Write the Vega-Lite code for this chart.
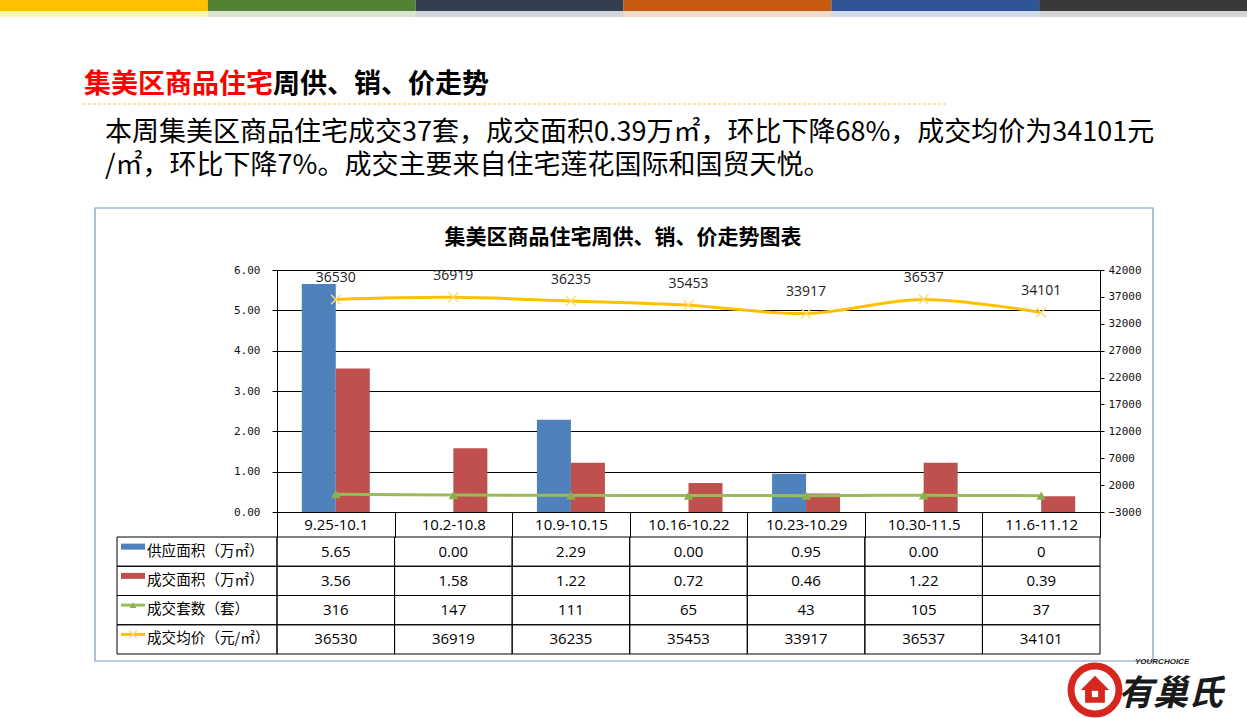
{
  "$schema": "https://vega.github.io/schema/vega-lite/v6.json",
  "width": 823,
  "height": 242,
  "autosize": {"type": "none"},
  "padding": {"left": 277, "top": 270, "right": 147, "bottom": 206},
  "background": "#ffffff",
  "config": {"view": {"stroke": null}, "font": "Noto Sans CJK SC"},
  "datasets": {
    "weekly": [
      {"period": "9.25-10.1", "metric": "供应面积（万㎡）", "value": 5.65, "label": "5.65"},
      {"period": "9.25-10.1", "metric": "成交面积（万㎡）", "value": 3.56, "label": "3.56"},
      {"period": "9.25-10.1", "metric": "成交套数（套）", "value": 316, "label": "316"},
      {"period": "9.25-10.1", "metric": "成交均价（元/㎡）", "value": 36530, "label": "36530"},
      {"period": "10.2-10.8", "metric": "供应面积（万㎡）", "value": 0, "label": "0.00"},
      {"period": "10.2-10.8", "metric": "成交面积（万㎡）", "value": 1.58, "label": "1.58"},
      {"period": "10.2-10.8", "metric": "成交套数（套）", "value": 147, "label": "147"},
      {"period": "10.2-10.8", "metric": "成交均价（元/㎡）", "value": 36919, "label": "36919"},
      {"period": "10.9-10.15", "metric": "供应面积（万㎡）", "value": 2.29, "label": "2.29"},
      {"period": "10.9-10.15", "metric": "成交面积（万㎡）", "value": 1.22, "label": "1.22"},
      {"period": "10.9-10.15", "metric": "成交套数（套）", "value": 111, "label": "111"},
      {"period": "10.9-10.15", "metric": "成交均价（元/㎡）", "value": 36235, "label": "36235"},
      {"period": "10.16-10.22", "metric": "供应面积（万㎡）", "value": 0, "label": "0.00"},
      {"period": "10.16-10.22", "metric": "成交面积（万㎡）", "value": 0.72, "label": "0.72"},
      {"period": "10.16-10.22", "metric": "成交套数（套）", "value": 65, "label": "65"},
      {"period": "10.16-10.22", "metric": "成交均价（元/㎡）", "value": 35453, "label": "35453"},
      {"period": "10.23-10.29", "metric": "供应面积（万㎡）", "value": 0.95, "label": "0.95"},
      {"period": "10.23-10.29", "metric": "成交面积（万㎡）", "value": 0.46, "label": "0.46"},
      {"period": "10.23-10.29", "metric": "成交套数（套）", "value": 43, "label": "43"},
      {"period": "10.23-10.29", "metric": "成交均价（元/㎡）", "value": 33917, "label": "33917"},
      {"period": "10.30-11.5", "metric": "供应面积（万㎡）", "value": 0, "label": "0.00"},
      {"period": "10.30-11.5", "metric": "成交面积（万㎡）", "value": 1.22, "label": "1.22"},
      {"period": "10.30-11.5", "metric": "成交套数（套）", "value": 105, "label": "105"},
      {"period": "10.30-11.5", "metric": "成交均价（元/㎡）", "value": 36537, "label": "36537"},
      {"period": "11.6-11.12", "metric": "供应面积（万㎡）", "value": 0, "label": "0"},
      {"period": "11.6-11.12", "metric": "成交面积（万㎡）", "value": 0.39, "label": "0.39"},
      {"period": "11.6-11.12", "metric": "成交套数（套）", "value": 37, "label": "37"},
      {"period": "11.6-11.12", "metric": "成交均价（元/㎡）", "value": 34101, "label": "34101"}
    ],
    "stripes": [{"seg": "a"}, {"seg": "b"}, {"seg": "c"}, {"seg": "d"}, {"seg": "e"}, {"seg": "f"}],
    "note": [{
      "red": "集美区商品住宅",
      "black": "周供、销、价走势",
      "paragraph": ["本周集美区商品住宅成交37套，成交面积0.39万㎡，环比下降68%，成交均价为34101元", "/㎡，环比下降7%。成交主要来自住宅莲花国际和国贸天悦。"],
      "chartTitle": "集美区商品住宅周供、销、价走势图表",
      "brand": "有巢氏",
      "brandEn": "YOURCHOICE"
    }]
  },
  "layer": [
    {
      "data": {"name": "stripes"},
      "encoding": {
        "x": {"field": "seg", "type": "nominal", "sort": null, "axis": null, "scale": {"range": [-277, 970], "paddingInner": 0, "paddingOuter": 0}},
        "color": {"field": "seg", "type": "nominal", "sort": null, "legend": null, "scale": {"range": ["#FFC000", "#548235", "#333F50", "#C55A11", "#2F5597", "#3A3838"]}}
      },
      "layer": [
        {"mark": {"type": "rect"}, "encoding": {"y": {"value": -270}, "y2": {"value": -259}}},
        {"mark": {"type": "rect", "opacity": 0.22}, "encoding": {"y": {"value": -259}, "y2": {"value": -253}}}
      ]
    },
    {
      "data": {"name": "note"},
      "layer": [
        {"mark": {"type": "text", "align": "left", "baseline": "middle", "fontSize": 27, "fontWeight": "bold", "font": "Noto Sans CJK SC", "color": "#FF0000"},
         "encoding": {"x": {"value": -193}, "y": {"value": -185}, "text": {"field": "red"}}},
        {"mark": {"type": "text", "align": "left", "baseline": "middle", "fontSize": 27, "fontWeight": "bold", "font": "Noto Sans CJK SC", "color": "#000000"},
         "encoding": {"x": {"value": -4}, "y": {"value": -185}, "text": {"field": "black"}}},
        {"mark": {"type": "rule", "color": "#F2C94C", "strokeWidth": 1, "strokeDash": [3, 2]},
         "encoding": {"x": {"value": -194}, "x2": {"value": 671}, "y": {"value": -166}}},
        {"mark": {"type": "text", "align": "left", "baseline": "middle", "fontSize": 27, "lineHeight": 32.5, "font": "Noto Sans CJK SC", "color": "#000000"},
         "encoding": {"x": {"value": -172}, "y": {"value": -137}, "text": {"field": "paragraph"}}},
        {"mark": {"type": "rect", "fillOpacity": 0, "stroke": "#7C98C0", "strokeWidth": 1.2},
         "encoding": {"x": {"value": -182}, "x2": {"value": 876}, "y": {"value": -62}, "y2": {"value": 391}}},
        {"mark": {"type": "text", "align": "center", "baseline": "middle", "fontSize": 21, "fontWeight": "bold", "font": "Noto Sans CJK SC", "color": "#000000"},
         "encoding": {"x": {"value": 346}, "y": {"value": -32}, "text": {"field": "chartTitle"}}},
        {"mark": {"type": "point", "shape": "circle", "size": 2300, "filled": false, "strokeWidth": 7, "color": "#D7261E", "opacity": 1},
         "encoding": {"x": {"value": 818}, "y": {"value": 420}}},
        {"mark": {"type": "point", "shape": "M0,-1L1,0L0.7,0L0.7,0.9L-0.7,0.9L-0.7,0L-1,0Z", "size": 800, "filled": true, "color": "#D7261E", "opacity": 1},
         "encoding": {"x": {"value": 818}, "y": {"value": 420}}},
        {"mark": {"type": "point", "shape": "square", "size": 40, "filled": true, "color": "#ffffff", "opacity": 1},
         "encoding": {"x": {"value": 818}, "y": {"value": 424}}},
        {"mark": {"type": "text", "align": "left", "baseline": "middle", "fontSize": 35, "fontWeight": "bold", "fontStyle": "italic", "font": "Noto Sans CJK SC", "color": "#1a1a1a"},
         "encoding": {"x": {"value": 841}, "y": {"value": 424}, "text": {"field": "brand"}}},
        {"mark": {"type": "text", "align": "left", "baseline": "middle", "fontSize": 8, "fontWeight": "bold", "fontStyle": "italic", "font": "Liberation Sans", "color": "#1a1a1a"},
         "encoding": {"x": {"value": 858}, "y": {"value": 392}, "text": {"field": "brandEn"}}}
      ]
    },
    {
      "data": {"name": "weekly"},
      "encoding": {
        "x": {"field": "period", "type": "nominal", "sort": null, "scale": {"paddingInner": 0, "paddingOuter": 0},
              "axis": {"orient": "bottom", "title": null, "domainColor": "#000000", "tickBand": "extent", "tickSize": 25, "tickColor": "#000000", "labelAngle": 0, "labelBaseline": "middle", "labelPadding": -12.5, "labelFont": "Open Sans", "labelFontSize": 15, "labelColor": "#000000", "labelOverlap": false}}
      },
      "layer": [
        {
          "transform": [{"filter": {"field": "metric", "oneOf": ["供应面积（万㎡）", "成交面积（万㎡）"]}}],
          "mark": {"type": "bar"},
          "encoding": {
            "xOffset": {"field": "metric", "type": "nominal", "sort": null, "scale": {"paddingInner": 0, "paddingOuter": 0.729}},
            "y": {"field": "value", "type": "quantitative", "scale": {"domain": [0, 6], "nice": false},
                  "axis": {"orient": "left", "title": null, "values": [0, 1, 2, 3, 4, 5, 6], "format": ".2f", "grid": true, "gridColor": "#000000", "gridOpacity": 1, "domainColor": "#000000", "tickColor": "#000000", "tickSize": 5, "labelPadding": 12, "labelFont": "DejaVu Sans Mono", "labelFontSize": 11, "labelColor": "#111111"}},
            "color": {"field": "metric", "type": "nominal", "legend": null,
                      "scale": {"domain": ["供应面积（万㎡）", "成交面积（万㎡）", "成交套数（套）", "成交均价（元/㎡）"], "range": ["#4F81BD", "#C0504D", "#9BBB59", "#FFC000"]}}
          }
        },
        {
          "transform": [{"filter": {"field": "metric", "oneOf": ["成交套数（套）", "成交均价（元/㎡）"]}}],
          "encoding": {
            "y": {"field": "value", "type": "quantitative", "scale": {"domain": [-3000, 42000], "nice": false, "zero": false},
                  "axis": {"orient": "right", "title": null, "values": [-3000, 2000, 7000, 12000, 17000, 22000, 27000, 32000, 37000, 42000], "format": "d", "grid": false, "domainColor": "#000000", "tickColor": "#000000", "tickSize": 4, "labelPadding": 4, "labelFont": "DejaVu Sans Mono", "labelFontSize": 11, "labelColor": "#111111"}}
          },
          "layer": [
            {"mark": {"type": "line", "strokeWidth": 3, "interpolate": "cardinal"},
             "encoding": {"color": {"field": "metric", "type": "nominal", "legend": null,
                          "scale": {"domain": ["供应面积（万㎡）", "成交面积（万㎡）", "成交套数（套）", "成交均价（元/㎡）"], "range": ["#4F81BD", "#C0504D", "#9BBB59", "#FFC000"]}}}},
            {"transform": [{"filter": {"field": "metric", "equal": "成交套数（套）"}}],
             "mark": {"type": "point", "shape": "triangle-up", "filled": true, "size": 90, "color": "#8DB04F", "opacity": 1}},
            {"transform": [{"filter": {"field": "metric", "equal": "成交均价（元/㎡）"}}],
             "mark": {"type": "point", "shape": "M-1,-1L1,1M1,-1L-1,1", "filled": false, "size": 90, "color": "#F7DC7A", "strokeWidth": 1.5, "opacity": 1}},
            {"transform": [{"filter": {"field": "metric", "equal": "成交均价（元/㎡）"}}],
             "mark": {"type": "text", "dy": -21, "font": "Open Sans", "fontSize": 14, "color": "#222222"},
             "encoding": {"text": {"field": "label"}}}
          ]
        },
        {
          "encoding": {
            "y": {"field": "metric", "type": "nominal", "sort": null, "axis": null,
                  "scale": {"domain": ["供应面积（万㎡）", "成交面积（万㎡）", "成交套数（套）", "成交均价（元/㎡）"], "range": [267, 384], "paddingInner": 0, "paddingOuter": 0}}
          },
          "layer": [
            {"mark": {"type": "rect", "fill": "#ffffff", "fillOpacity": 0, "stroke": "#000000", "strokeWidth": 1}},
            {"mark": {"type": "text", "font": "Open Sans", "fontSize": 15, "color": "#000000"}, "encoding": {"text": {"field": "label"}}},
            {"transform": [{"aggregate": [{"op": "count", "as": "n"}], "groupby": ["metric"]}],
             "mark": {"type": "rect", "fill": "#ffffff", "fillOpacity": 0, "stroke": "#000000", "strokeWidth": 1},
             "encoding": {"x": {"value": -160}, "x2": {"value": 0}}},
            {"transform": [{"aggregate": [{"op": "count", "as": "n"}], "groupby": ["metric"]}],
             "mark": {"type": "text", "align": "left", "font": "Noto Sans CJK SC", "fontSize": 14.6, "color": "#000000"},
             "encoding": {"x": {"value": -130}, "text": {"field": "metric"}}},
            {"transform": [{"aggregate": [{"op": "count", "as": "n"}], "groupby": ["metric"]}, {"filter": {"field": "metric", "oneOf": ["供应面积（万㎡）", "成交面积（万㎡）"]}}],
             "mark": {"type": "point", "shape": "M-1,-0.25L1,-0.25L1,0.25L-1,0.25Z", "filled": true, "size": 576, "yOffset": -5, "opacity": 1},
             "encoding": {"x": {"value": -144}, "color": {"field": "metric", "type": "nominal", "legend": null,
                          "scale": {"domain": ["供应面积（万㎡）", "成交面积（万㎡）", "成交套数（套）", "成交均价（元/㎡）"], "range": ["#4F81BD", "#C0504D", "#9BBB59", "#FFC000"]}}}},
            {"transform": [{"aggregate": [{"op": "count", "as": "n"}], "groupby": ["metric"]}, {"filter": {"field": "metric", "oneOf": ["成交套数（套）", "成交均价（元/㎡）"]}}],
             "mark": {"type": "point", "shape": "M-1,0L1,0", "filled": false, "size": 576, "strokeWidth": 3, "yOffset": -5, "opacity": 1},
             "encoding": {"x": {"value": -144}, "color": {"field": "metric", "type": "nominal", "legend": null,
                          "scale": {"domain": ["供应面积（万㎡）", "成交面积（万㎡）", "成交套数（套）", "成交均价（元/㎡）"], "range": ["#4F81BD", "#C0504D", "#9BBB59", "#FFC000"]}}}},
            {"transform": [{"aggregate": [{"op": "count", "as": "n"}], "groupby": ["metric"]}, {"filter": {"field": "metric", "equal": "成交套数（套）"}}],
             "mark": {"type": "point", "shape": "triangle-up", "filled": true, "size": 45, "yOffset": -5, "color": "#8DB04F", "opacity": 1},
             "encoding": {"x": {"value": -144}}},
            {"transform": [{"aggregate": [{"op": "count", "as": "n"}], "groupby": ["metric"]}, {"filter": {"field": "metric", "equal": "成交均价（元/㎡）"}}],
             "mark": {"type": "point", "shape": "M-1,-1L1,1M1,-1L-1,1", "filled": false, "size": 60, "yOffset": -5, "color": "#F7DC7A", "strokeWidth": 1.5, "opacity": 1},
             "encoding": {"x": {"value": -144}}}
          ]
        }
      ],
      "resolve": {"scale": {"y": "independent"}}
    }
  ],
  "resolve": {"scale": {"x": "independent", "y": "independent", "color": "independent"}}
}
